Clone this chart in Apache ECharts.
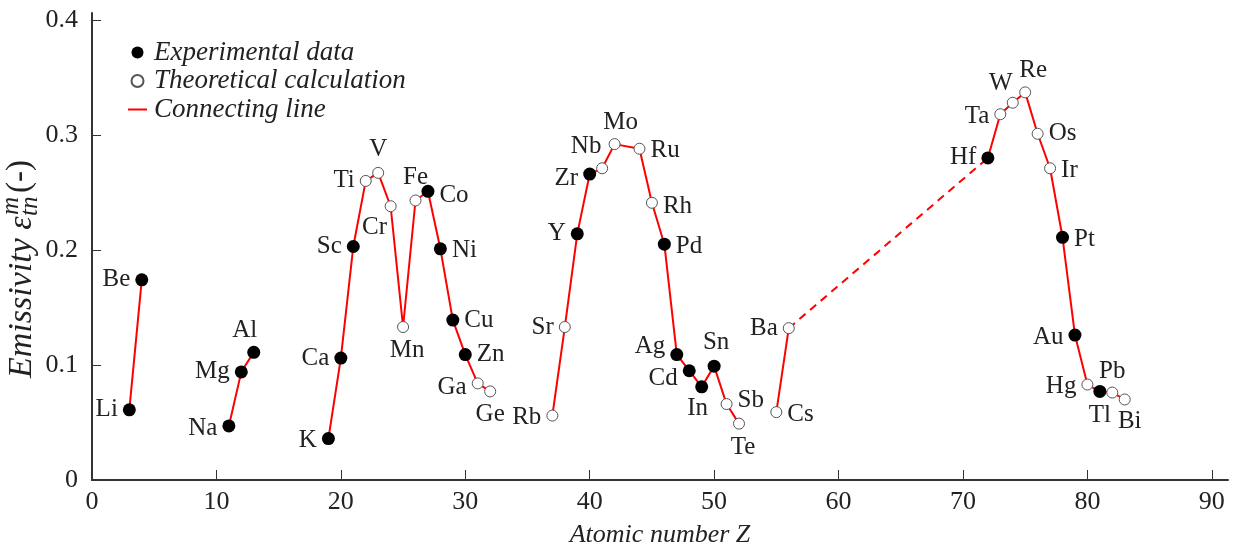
<!DOCTYPE html>
<html><head><meta charset="utf-8">
<script src="https://cdn.jsdelivr.net/npm/echarts@6/dist/echarts.min.js"></script>
<style>html,body{margin:0;padding:0;background:#fff;overflow:hidden}#c{width:1235px;height:553px}</style>
</head><body><div id="c"></div>
<script>
// ---- data ----
const elements   = ['Li','Be','Na','Mg','Al','K','Ca','Sc','Ti','V','Cr','Mn','Fe','Co','Ni','Cu','Zn','Ga','Ge',
                    'Rb','Sr','Y','Zr','Nb','Mo','Ru','Rh','Pd','Ag','Cd','In','Sn','Sb','Te','Cs','Ba',
                    'Hf','Ta','W','Re','Os','Ir','Pt','Au','Hg','Tl','Pb','Bi'];
const atomicZ    = [3,4,11,12,13,19,20,21,22,23,24,25,26,27,28,29,30,31,32,
                    37,38,39,40,41,42,44,45,46,47,48,49,50,51,52,55,56,
                    72,73,74,75,76,77,78,79,80,81,82,83];
const emissivity = [0.061,0.174,0.047,0.094,0.111,0.036,0.106,0.203,0.260,0.267,0.238,0.133,0.243,0.251,0.201,0.139,0.109,0.084,0.077,
                    0.056,0.133,0.214,0.266,0.271,0.292,0.288,0.241,0.205,0.109,0.095,0.081,0.099,0.066,0.049,0.059,0.132,
                    0.280,0.318,0.328,0.337,0.301,0.271,0.211,0.126,0.083,0.077,0.076,0.070];
// 1 = experimental data, 0 = theoretical calculation
const measured   = [1,1,1,1,1,1,1,1,0,0,0,0,0,1,1,1,1,0,0,
                    0,0,1,1,0,0,0,0,1,1,1,1,1,0,0,0,0,
                    1,0,0,0,0,0,1,1,0,1,0,0];
// solid connecting segments (Z ranges) and the dashed link
const solidSegments = [[3,4],[11,13],[19,32],[37,52],[55,56],[72,83]];
const dashedSegment = [56,72];
const xTicks = [0,10,20,30,40,50,60,70,80,90];
const yTicks = [0,0.1,0.2,0.3,0.4];

// ---- label placement (style) ----
const labelPlace = {
  Li:['left',[0,0]], Be:['left',[0,0]], Na:['left',[0,2]], Mg:['left',[0,0]], Al:['top',[-9,2]],
  K:['left',[0,2]], Ca:['left',[0,0]], Sc:['left',[0,0]], Ti:['left',[0,0]], V:['top',[0,0]],
  Cr:['bottom',[-16,-2]], Mn:['bottom',[4,0]], Fe:['top',[0,0]], Co:['right',[0,4]], Ni:['right',[0,2]],
  Cu:['right',[0,0]], Zn:['right',[0,0]], Ga:['left',[0,4]], Ge:['bottom',[0,0]],
  Rb:['left',[0,2]], Sr:['left',[0,0]], Y:['left',[0,0]], Zr:['left',[0,4]], Nb:['top',[-16,2]],
  Mo:['top',[6,2]], Ru:['right',[0,2]], Rh:['right',[0,4]], Pd:['right',[0,2]], Ag:['left',[0,-8]],
  Cd:['left',[0,8]], In:['bottom',[-4,-2]], Sn:['top',[2,0]], Sb:['right',[0,-4]], Te:['bottom',[4,0]],
  Cs:['right',[0,2]], Ba:['left',[0,0]],
  Hf:['left',[0,0]], Ta:['left',[0,2]], W:['top',[-12,4]], Re:['top',[8,2]], Os:['right',[0,0]],
  Ir:['right',[0,2]], Pt:['right',[0,2]], Au:['left',[0,2]], Hg:['left',[0,2]], Tl:['bottom',[0,0]],
  Pb:['top',[0,2]], Bi:['bottom',[5,-2]]
};

const FONT = 'Liberation Serif';
const INK = '#222';
function pointsOf(flag) {
  const out = [];
  elements.forEach((el, i) => {
    if (measured[i] !== flag) return;
    const p = labelPlace[el] || ['right',[0,0]];
    out.push({ value: [atomicZ[i], emissivity[i]], name: el,
      label: { show: true, formatter: el, position: p[0], offset: p[1], distance: 5 } });
  });
  return out;
}
function segmentData(range) {
  const d = [];
  atomicZ.forEach((z, i) => { if (z >= range[0] && z <= range[1]) d.push([z, emissivity[i]]); });
  return d;
}

const lineSeries = solidSegments.map(r => ({
  name: 'Connecting line', type: 'line', data: segmentData(r), symbol: 'none', silent: true,
  lineStyle: { color: '#ff0000', width: 2 }, itemStyle: { color: '#ff0000' }, z: 2
}));
const dashSeries = {
  name: 'link', type: 'line', symbol: 'none', silent: true,
  data: segmentData(dashedSegment).filter(p => p[0] === dashedSegment[0] || p[0] === dashedSegment[1]),
  lineStyle: { color: '#ff0000', width: 2, type: [8, 6] }, z: 1
};
const labelStyle = { fontFamily: FONT, fontSize: 25, color: INK };

// y-axis title, rotated (real text)
const yTitle = {
  type: 'group', x: 22, y: 378, rotation: Math.PI / 2,
  children: [
    { type: 'text', x: 0, y: 0, style: { text: 'Emissivity ε', font: 'italic 34px "Liberation Serif"', fill: INK, textVerticalAlign: 'middle' } },
    { type: 'text', x: 162, y: 8, style: { text: 'tn', font: 'italic 25px "Liberation Serif"', fill: INK, textVerticalAlign: 'middle' } },
    { type: 'text', x: 163, y: -11, style: { text: 'm', font: 'italic 25px "Liberation Serif"', fill: INK, textVerticalAlign: 'middle' } },
    { type: 'text', x: 185, y: -2, style: { text: '(-)', font: '33px "Liberation Serif"', fill: INK, textVerticalAlign: 'middle' } }
  ]
};

const chart = echarts.init(document.getElementById('c'), null, { renderer: 'canvas' });
const option = {
  animation: false,
  backgroundColor: '#fff',
  textStyle: { fontFamily: FONT },
  grid: { left: 92, right: 7, top: 13, bottom: 68, containLabel: false },
  graphic: [yTitle],
  legend: {
    orient: 'vertical', left: 123, top: 34, itemGap: 1.5, itemWidth: 19, itemHeight: 12,
    textStyle: { fontFamily: FONT, fontStyle: 'italic', fontSize: 27, lineHeight: 27, color: INK, padding: [0,0,0,2] },
    data: [
      { name: 'Experimental data', icon: 'circle' },
      { name: 'Theoretical calculation', icon: 'circle' },
      { name: 'Connecting line', icon: 'path://M0,0H19V2H0Z' }
    ]
  },
  xAxis: {
    type: 'value', min: 0, max: 91.3, interval: 10,
    name: 'Atomic number Z', nameLocation: 'middle', nameGap: 42,
    nameTextStyle: { fontFamily: FONT, fontStyle: 'italic', fontSize: 26, color: INK },
    axisLine: { show: true, lineStyle: { color: '#333', width: 2 } },
    axisTick: { show: true, inside: true, length: 10, customValues: xTicks, lineStyle: { color: '#333', width: 1 } },
    axisLabel: { fontFamily: FONT, fontSize: 26, color: INK, margin: 9, customValues: xTicks,
      formatter: v => String(v) },
    splitLine: { show: false }
  },
  yAxis: {
    type: 'value', min: 0, max: 0.406, interval: 0.1,
    axisLine: { show: true, lineStyle: { color: '#333', width: 2 } },
    axisTick: { show: true, inside: true, length: 9, customValues: yTicks, lineStyle: { color: '#333', width: 1 } },
    axisLabel: { fontFamily: FONT, fontSize: 26, color: INK, margin: 14, customValues: yTicks,
      formatter: v => (Math.abs(v) < 1e-9 ? '0' : (+v).toFixed(1)) },
    splitLine: { show: false }
  },
  series: [
    ...lineSeries,
    dashSeries,
    { name: 'Experimental data', type: 'scatter', data: pointsOf(1), symbol: 'circle', symbolSize: 13, z: 5,
      itemStyle: { color: '#000', borderColor: '#000', borderWidth: 0, opacity: 1 }, label: labelStyle },
    { name: 'Theoretical calculation', type: 'scatter', data: pointsOf(0), symbol: 'circle', symbolSize: 11, z: 5,
      itemStyle: { color: '#fff', borderColor: '#555', borderWidth: 1, opacity: 1 }, label: labelStyle }
  ]
};
chart.setOption(option);
</script></body></html>
